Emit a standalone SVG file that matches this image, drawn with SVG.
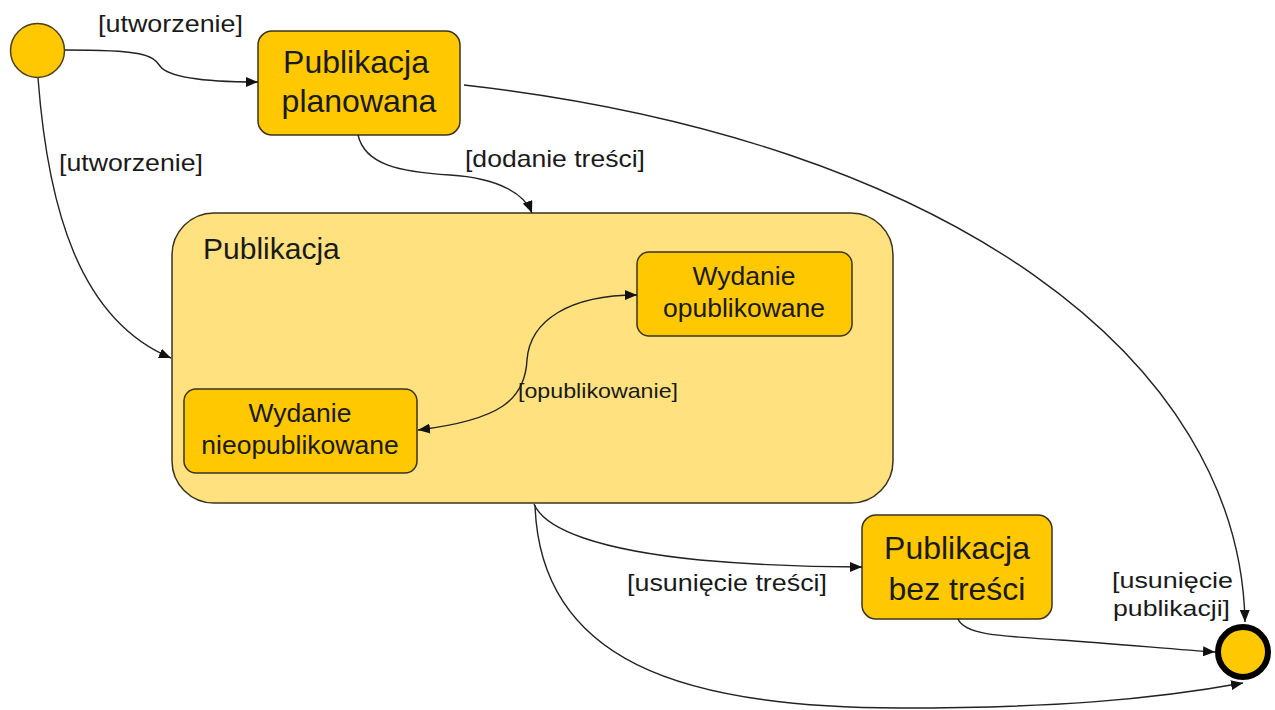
<svg xmlns="http://www.w3.org/2000/svg" width="1275" height="710" viewBox="0 0 1275 710">
<style>
.node{fill:#FFC800;stroke:#3a3320;stroke-width:1.5}
.comp{fill:#FFE17F;stroke:#3a3320;stroke-width:1.5}
.ntxt{font-family:"Liberation Sans",Arial,sans-serif;fill:#1a1a1a;text-anchor:middle}
.lbl{font-family:"Liberation Sans",Arial,sans-serif;fill:#1a1a1a;font-size:24px}
.edge{fill:none;stroke:#222;stroke-width:1.4}
</style>
<defs>
<marker id="arr" viewBox="0 0 12 10" refX="12" refY="5" markerWidth="12" markerHeight="10" markerUnits="userSpaceOnUse" orient="auto-start-reverse">
<path d="M0,0 L12,5 L0,10 z" fill="#111"/>
</marker>
</defs>
<rect width="1275" height="710" fill="#fff"/>

<g id="composite">
<rect class="comp" x="172" y="213" width="721" height="290" rx="42"/>
<text class="ntxt" x="203" y="259" font-size="30" style="text-anchor:start">Publikacja</text>
</g>

<g id="start">
<circle cx="37.5" cy="50.5" r="27" fill="#FFC800" stroke="#4a4020" stroke-width="1.5"/>
</g>

<g id="planowana">
<rect class="node" x="258" y="31" width="202" height="104" rx="14"/>
<text class="ntxt" x="356" y="73" font-size="32">Publikacja</text>
<text class="ntxt" x="359" y="112" font-size="32">planowana</text>
</g>

<g id="nieopublikowane">
<rect class="node" x="184" y="389" width="233" height="84" rx="12"/>
<text class="ntxt" x="300" y="422" font-size="26.5">Wydanie</text>
<text class="ntxt" x="300" y="454" font-size="26.5">nieopublikowane</text>
</g>

<g id="opublikowane">
<rect class="node" x="637" y="252" width="215" height="84" rx="12"/>
<text class="ntxt" x="744" y="285" font-size="26.5">Wydanie</text>
<text class="ntxt" x="744" y="317" font-size="26.5">opublikowane</text>
</g>

<g id="beztresci">
<rect class="node" x="862" y="515" width="190" height="104" rx="14"/>
<text class="ntxt" x="957" y="559" font-size="32">Publikacja</text>
<text class="ntxt" x="957" y="600" font-size="32">bez treści</text>
</g>

<g id="end">
<circle cx="1243" cy="652" r="25" fill="#FFC800" stroke="#000" stroke-width="6"/>
</g>

<g id="connectors">
<path class="edge" d="M65,50 C140,50 152,54 160,66 C170,80 225,82 258,82" marker-end="url(#arr)"/>
<path class="edge" d="M38,78 C48,210 80,320 171,358" marker-end="url(#arr)"/>
<path class="edge" d="M358,135 C365,165 400,172 450,175 C500,178 525,195 532,213" marker-end="url(#arr)"/>
<path class="edge" d="M464,85 C950,140 1240,360 1245,622" marker-end="url(#arr)"/>
<path class="edge" d="M418,430 C500,420 525,400 527,360 C530,320 570,295 637,295" marker-start="url(#arr)" marker-end="url(#arr)"/>
<path class="edge" d="M534,504 C545,530 600,550 700,560 C780,567 830,567 862,567" marker-end="url(#arr)"/>
<path class="edge" d="M535,505 C540,660 680,708 900,708 C1050,708 1150,700 1243,683" marker-end="url(#arr)"/>
<path class="edge" d="M958,619 C965,635 1000,636 1060,640 C1120,644 1180,650 1215,652" marker-end="url(#arr)"/>
</g>

<g id="labels">
<text class="lbl" x="98" y="32" textLength="145" lengthAdjust="spacingAndGlyphs">[utworzenie]</text>
<text class="lbl" x="59" y="171" textLength="144" lengthAdjust="spacingAndGlyphs">[utworzenie]</text>
<text class="lbl" x="465" y="167" textLength="180" lengthAdjust="spacingAndGlyphs">[dodanie treści]</text>
<text class="lbl" x="518" y="398" style="font-size:21px" textLength="160" lengthAdjust="spacingAndGlyphs">[opublikowanie]</text>
<text class="lbl" x="627" y="591" textLength="200" lengthAdjust="spacingAndGlyphs">[usunięcie treści]</text>
<text class="lbl" x="1112" y="588" style="font-size:22px" textLength="121" lengthAdjust="spacingAndGlyphs">[usunięcie</text>
<text class="lbl" x="1113" y="616" style="font-size:22px" textLength="117" lengthAdjust="spacingAndGlyphs">publikacji]</text>
</g>
</svg>
